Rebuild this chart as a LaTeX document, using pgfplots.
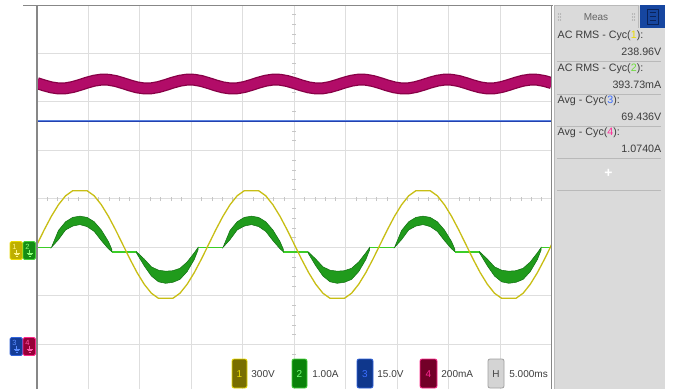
\documentclass[border=0pt]{standalone}
\usepackage{pgfplots}
\pgfplotsset{compat=1.18}
\usepackage{fontspec}
\setmainfont{Liberation Sans}
\definecolor{gridc}{RGB}{222,222,222}
\definecolor{tickc}{RGB}{198,198,198}
\definecolor{ylw}{RGB}{200,190,20}
\definecolor{grnline}{RGB}{60,205,40}
\definecolor{grnfill}{RGB}{32,155,28}
\definecolor{grnedge}{RGB}{15,110,15}
\definecolor{mag}{RGB}{178,12,104}
\definecolor{magdark}{RGB}{135,0,70}
\definecolor{blu}{RGB}{35,65,175}
\definecolor{blulight}{RGB}{90,130,225}
\definecolor{panel}{RGB}{218,218,218}
\definecolor{panelln}{RGB}{185,185,185}
\definecolor{ptxt}{RGB}{60,60,60}
\definecolor{meastxt}{RGB}{100,100,100}
\definecolor{frame}{RGB}{135,135,135}
\definecolor{n1}{RGB}{235,220,0}
\definecolor{n2}{RGB}{110,220,60}
\definecolor{n3}{RGB}{60,110,255}
\definecolor{n4}{RGB}{255,40,150}
\definecolor{tabblue}{RGB}{22,70,160}
\definecolor{tabdark}{RGB}{10,35,90}
\definecolor{dots}{RGB}{150,150,150}
\definecolor{g1fill}{RGB}{190,175,0}
\definecolor{g1draw}{RGB}{235,220,0}
\definecolor{g1txt}{RGB}{255,245,140}
\definecolor{g2fill}{RGB}{20,140,20}
\definecolor{g2draw}{RGB}{70,210,60}
\definecolor{g2txt}{RGB}{140,255,120}
\definecolor{g3fill}{RGB}{20,60,150}
\definecolor{g3draw}{RGB}{50,100,220}
\definecolor{g3txt}{RGB}{90,140,255}
\definecolor{g4fill}{RGB}{150,0,55}
\definecolor{g4draw}{RGB}{255,40,140}
\definecolor{g4txt}{RGB}{255,90,170}
\definecolor{l1fill}{RGB}{120,110,0}
\definecolor{l2fill}{RGB}{10,130,10}
\definecolor{l2txt}{RGB}{120,255,120}
\definecolor{l3fill}{RGB}{15,55,140}
\definecolor{l4fill}{RGB}{115,0,40}
\definecolor{lhfill}{RGB}{212,212,212}
\definecolor{lhdraw}{RGB}{160,160,160}
\definecolor{lhtxt}{RGB}{70,70,70}
\begin{document}
\begin{tikzpicture}[x=1pt,y=1pt]
\path[use as bounding box, fill=white] (0,0) rectangle (678,389);
\begin{axis}[
  at={(37pt,0pt)}, anchor=south west, scale only axis,
  width=514.7pt, height=384pt,
  xmin=0, xmax=50, ymin=-2.92, ymax=5,
  axis line style={draw=none},
  xtick={5,10,...,45}, ytick={-2,-1,...,4},
  xticklabels={}, yticklabels={}, major tick length=0pt,
  grid=major, major grid style={gridc, line width=1pt},
  clip=true, unbounded coords=jump,
]
% centre crosshair minor ticks
\pgfplotsinvokeforeach{1,2,3,4,6,7,8,9,11,12,13,14,16,17,18,19,21,22,23,24,26,27,28,29,31,32,33,34,36,37,38,39,41,42,43,44,46,47,48,49}{
  \draw[tickc, line width=0.6pt] (axis cs:#1,0.955) -- (axis cs:#1,1.045);}
\pgfplotsinvokeforeach{-2.8,-2.6,-2.4,-2.2,-1.8,-1.6,-1.4,-1.2,-0.8,-0.6,-0.4,-0.2,0.2,0.4,0.6,0.8,1.2,1.4,1.6,1.8,2.2,2.4,2.6,2.8,3.2,3.4,3.6,3.8,4.2,4.4,4.6,4.8}{
  \draw[tickc, line width=0.6pt] (axis cs:24.8,#1) -- (axis cs:25.2,#1);}
% channel 4 (magenta), 200 mA/div
\addplot[magdark, line width=12pt, line join=round, no markers] coordinates {
(0,3.389) (0.694,3.341) (1.389,3.301) (2.083,3.279) (2.778,3.282) (3.472,3.308) (4.167,3.351) (4.861,3.399) (5.556,3.439) (6.25,3.461) (6.944,3.458) (7.639,3.432)
(8.333,3.389) (9.028,3.341) (9.722,3.301) (10.417,3.279) (11.111,3.282) (11.806,3.308) (12.5,3.351) (13.194,3.399) (13.889,3.439) (14.583,3.461) (15.278,3.458) (15.972,3.432)
(16.667,3.389) (17.361,3.341) (18.056,3.301) (18.75,3.279) (19.444,3.282) (20.139,3.308) (20.833,3.351) (21.528,3.399) (22.222,3.439) (22.917,3.461) (23.611,3.458) (24.306,3.432)
(25,3.389) (25.694,3.341) (26.389,3.301) (27.083,3.279) (27.778,3.282) (28.472,3.308) (29.167,3.351) (29.861,3.399) (30.556,3.439) (31.25,3.461) (31.944,3.458) (32.639,3.432)
(33.333,3.389) (34.028,3.341) (34.722,3.301) (35.417,3.279) (36.111,3.282) (36.806,3.308) (37.5,3.351) (38.194,3.399) (38.889,3.439) (39.583,3.461) (40.278,3.458) (40.972,3.432)
(41.667,3.389) (42.361,3.341) (43.056,3.301) (43.75,3.279) (44.444,3.282) (45.139,3.308) (45.833,3.351) (46.528,3.399) (47.222,3.439) (47.917,3.461) (48.611,3.458) (49.306,3.432) (50,3.389)};
\addplot[mag, line width=9.5pt, line join=round, no markers] coordinates {
(0,3.389) (0.694,3.341) (1.389,3.301) (2.083,3.279) (2.778,3.282) (3.472,3.308) (4.167,3.351) (4.861,3.399) (5.556,3.439) (6.25,3.461) (6.944,3.458) (7.639,3.432)
(8.333,3.389) (9.028,3.341) (9.722,3.301) (10.417,3.279) (11.111,3.282) (11.806,3.308) (12.5,3.351) (13.194,3.399) (13.889,3.439) (14.583,3.461) (15.278,3.458) (15.972,3.432)
(16.667,3.389) (17.361,3.341) (18.056,3.301) (18.75,3.279) (19.444,3.282) (20.139,3.308) (20.833,3.351) (21.528,3.399) (22.222,3.439) (22.917,3.461) (23.611,3.458) (24.306,3.432)
(25,3.389) (25.694,3.341) (26.389,3.301) (27.083,3.279) (27.778,3.282) (28.472,3.308) (29.167,3.351) (29.861,3.399) (30.556,3.439) (31.25,3.461) (31.944,3.458) (32.639,3.432)
(33.333,3.389) (34.028,3.341) (34.722,3.301) (35.417,3.279) (36.111,3.282) (36.806,3.308) (37.5,3.351) (38.194,3.399) (38.889,3.439) (39.583,3.461) (40.278,3.458) (40.972,3.432)
(41.667,3.389) (42.361,3.341) (43.056,3.301) (43.75,3.279) (44.444,3.282) (45.139,3.308) (45.833,3.351) (46.528,3.399) (47.222,3.439) (47.917,3.461) (48.611,3.458) (49.306,3.432) (50,3.389)};
% channel 3 (blue), 15 V/div
\addplot[blu, line width=2.6pt, no markers] coordinates {(0,2.61) (50,2.61)};
\addplot[blulight, line width=0.8pt, no markers] coordinates {(0,2.61) (50,2.61)};
% channel 2 (green), 1 A/div : flat parts
\addplot[grnline, line width=1.6pt, no markers] coordinates {
(0,0) (1.40,0) (1.45,nan) (7.269,-0.09) (9.676,-0.09) (9.7,nan) (15.648,0) (18.067,0) (18.1,nan)
(23.936,-0.09) (26.343,-0.09) (26.4,nan) (32.315,0) (34.733,0) (34.8,nan) (40.602,-0.09) (43.009,-0.09) (43.1,nan) (48.981,0) (50,0)};
% channel 2 : conduction bands
\addplot[fill=grnfill, draw=grnedge, line width=0.5pt, no markers] coordinates {
(1.40,0) (2.083,0.35) (2.778,0.53) (3.472,0.62) (4.167,0.645) (4.861,0.62) (5.556,0.53) (6.25,0.36) (6.944,0.12) (7.269,-0.04)
(7.269,-0.09) (6.944,-0.03) (6.25,0.14) (5.556,0.33) (4.861,0.43) (4.167,0.47) (3.472,0.44) (2.778,0.36) (2.083,0.16) (1.40,0)} -- cycle;
\addplot[fill=grnfill, draw=grnedge, line width=0.5pt, no markers] coordinates {
(18.067,0) (18.75,0.35) (19.445,0.53) (20.139,0.62) (20.834,0.645) (21.528,0.62) (22.223,0.53) (22.917,0.36) (23.611,0.12) (23.936,-0.04)
(23.936,-0.09) (23.611,-0.03) (22.917,0.14) (22.223,0.33) (21.528,0.43) (20.834,0.47) (20.139,0.44) (19.445,0.36) (18.75,0.16) (18.067,0)} -- cycle;
\addplot[fill=grnfill, draw=grnedge, line width=0.5pt, no markers] coordinates {
(34.733,0) (35.416,0.35) (36.111,0.53) (36.805,0.62) (37.5,0.645) (38.194,0.62) (38.889,0.53) (39.583,0.36) (40.277,0.12) (40.602,-0.04)
(40.602,-0.09) (40.277,-0.03) (39.583,0.14) (38.889,0.33) (38.194,0.43) (37.5,0.47) (36.805,0.44) (36.111,0.36) (35.416,0.16) (34.733,0)} -- cycle;
\addplot[fill=grnfill, draw=grnedge, line width=0.5pt, no markers] coordinates {
(9.676,-0.09) (10.417,-0.24) (11.111,-0.40) (11.806,-0.47) (12.5,-0.49) (13.194,-0.48) (13.889,-0.43) (14.583,-0.30) (15.278,-0.11) (15.648,0)
(15.648,-0.05) (15.278,-0.25) (14.583,-0.50) (13.889,-0.66) (13.194,-0.72) (12.5,-0.74) (11.806,-0.71) (11.111,-0.59) (10.417,-0.38) (9.676,-0.12)} -- cycle;
\addplot[fill=grnfill, draw=grnedge, line width=0.5pt, no markers] coordinates {
(26.343,-0.09) (27.084,-0.24) (27.778,-0.40) (28.473,-0.47) (29.167,-0.49) (29.861,-0.48) (30.556,-0.43) (31.25,-0.30) (31.945,-0.11) (32.315,0)
(32.315,-0.05) (31.945,-0.25) (31.25,-0.50) (30.556,-0.66) (29.861,-0.72) (29.167,-0.74) (28.473,-0.71) (27.778,-0.59) (27.084,-0.38) (26.343,-0.12)} -- cycle;
\addplot[fill=grnfill, draw=grnedge, line width=0.5pt, no markers] coordinates {
(43.009,-0.09) (43.75,-0.24) (44.444,-0.40) (45.139,-0.47) (45.833,-0.49) (46.527,-0.48) (47.222,-0.43) (47.916,-0.30) (48.611,-0.11) (48.981,0)
(48.981,-0.05) (48.611,-0.25) (47.916,-0.50) (47.222,-0.66) (46.527,-0.72) (45.833,-0.74) (45.139,-0.71) (44.444,-0.59) (43.75,-0.38) (43.009,-0.12)} -- cycle;
% channel 1 (yellow), 300 V/div
\addplot[ylw, line width=1.3pt, line join=round, no markers] coordinates {
(0,0.06) (0.694,0.36) (1.389,0.64) (2.083,0.88) (2.778,1.065) (3.472,1.17) (4.167,1.17) (4.861,1.17) (5.556,1.065) (6.25,0.88) (6.944,0.64) (7.639,0.36) (8.333,0.06) (9.028,-0.24) (9.722,-0.52) (10.417,-0.76) (11.111,-0.945) (11.806,-1.05) (12.5,-1.05) (13.194,-1.05) (13.889,-0.945) (14.583,-0.76) (15.278,-0.52) (15.972,-0.24)
(16.667,0.06) (17.361,0.36) (18.056,0.64) (18.75,0.88) (19.444,1.065) (20.139,1.17) (20.833,1.17) (21.528,1.17) (22.222,1.065) (22.917,0.88) (23.611,0.64) (24.306,0.36) (25,0.06) (25.694,-0.24) (26.389,-0.52) (27.083,-0.76) (27.778,-0.945) (28.472,-1.05) (29.167,-1.05) (29.861,-1.05) (30.556,-0.945) (31.25,-0.76) (31.944,-0.52) (32.639,-0.24)
(33.333,0.06) (34.028,0.36) (34.722,0.64) (35.417,0.88) (36.111,1.065) (36.806,1.17) (37.5,1.17) (38.194,1.17) (38.889,1.065) (39.583,0.88) (40.278,0.64) (40.972,0.36) (41.667,0.06) (42.361,-0.24) (43.056,-0.52) (43.75,-0.76) (44.444,-0.945) (45.139,-1.05) (45.833,-1.05) (46.528,-1.05) (47.222,-0.945) (47.917,-0.76) (48.611,-0.52) (49.306,-0.24) (50,0.06)};
\end{axis}
% frame
\draw[frame, line width=1.8pt] (23,383.4) -- (552.5,383.4);
\draw[frame, line width=1.5pt] (37,0) -- (37,384);
\draw[frame, line width=1.5pt] (551.7,0) -- (551.7,384);
% measurement panel
\fill[panel] (554,0) rectangle (665,384);
\draw[panelln, line width=0.8pt] (554.4,0) -- (554.4,383.6) -- (638,383.6) -- (638,361);
\fill[tabblue] (640,361) rectangle (665,384);
\draw[tabdark, line width=0.8pt] (647,365) rectangle (658,380);
\foreach \yy in {368.5,372.5,376.5} \draw[tabdark, line width=0.6pt] (649.5,\yy) -- (655.5,\yy);
\foreach \xx in {558.5,560.5,632.5,634.5} \foreach \yy in {369,372,375} \fill[dots] (\xx,\yy) circle (0.55);
\node[meastxt, font=\fontsize{10}{11}\selectfont] at (596,372) {Meas};
\begin{scope}[every node/.style={ptxt, font=\fontsize{10.7}{12}\selectfont, inner sep=0pt}]
\node[anchor=west] at (557.5,353) {AC RMS - Cyc(\textcolor{n1}{1}):};
\node[anchor=east] at (661.5,337) {238.96V};
\node[anchor=west] at (557.5,320) {AC RMS - Cyc(\textcolor{n2}{2}):};
\node[anchor=east] at (661.5,304) {393.73mA};
\node[anchor=west] at (557.5,288) {Avg - Cyc(\textcolor{n3}{3}):};
\node[anchor=east] at (661.5,272) {69.436V};
\node[anchor=west] at (557.5,256) {Avg - Cyc(\textcolor{n4}{4}):};
\node[anchor=east] at (661.5,240) {1.0740A};
\end{scope}
\foreach \yy in {328,295,263,231,199} \draw[panelln, line width=0.8pt] (557,\yy) -- (661,\yy);
\node[white, font=\fontsize{14}{14}\selectfont\bfseries] at (608.5,216) {+};
% ground markers
\begin{scope}[rounded corners=1.5pt, line width=0.8pt, every node/.style={font=\fontsize{7.5}{8}\selectfont, inner sep=0pt}]
\draw[fill=g1fill, draw=g1draw] (10,129.5) rectangle (22.5,147.5);
\node[g1txt] at (14.5,142) {1};
\draw[fill=g2fill, draw=g2draw] (23,129.5) rectangle (35.5,147.5);
\node[g2txt] at (27.5,142) {2};
\draw[fill=g3fill, draw=g3draw] (10,33.5) rectangle (22.5,51.5);
\node[g3txt] at (14.5,46) {3};
\draw[fill=g4fill, draw=g4draw] (23,33.5) rectangle (35.5,51.5);
\node[g4txt] at (27.5,46) {4};
\foreach \xx/\yy/\cc in {16.5/136/g1txt, 29.5/136/g2txt, 16.5/40/g3txt, 29.5/40/g4txt}{
  \draw[\cc, line width=0.6pt, sharp corners] (\xx,\yy+3.5) -- (\xx,\yy) (\xx-3,\yy) -- (\xx+3,\yy) (\xx-2,\yy-1.5) -- (\xx+2,\yy-1.5) (\xx-1,\yy-3) -- (\xx+1,\yy-3);}
\end{scope}
% bottom channel legend
\begin{scope}[rounded corners=2pt, line width=0.8pt, every node/.style={font=\fontsize{10}{11}\selectfont, inner sep=0pt}]
\draw[fill=l1fill, draw=g1draw] (232,1) rectangle (247,30);
\node[n1] at (239.5,15) {1};
\node[ptxt, anchor=west] at (251,15) {300V};
\draw[fill=l2fill, draw=g2draw] (292,1) rectangle (307,30);
\node[l2txt] at (299.5,15) {2};
\node[ptxt, anchor=west] at (312,15) {1.00A};
\draw[fill=l3fill, draw=g3draw] (357,1) rectangle (373,30);
\node[n3] at (365,15) {3};
\node[ptxt, anchor=west] at (377,15) {15.0V};
\draw[fill=l4fill, draw=g4draw] (420,1) rectangle (437,30);
\node[n4] at (428.5,15) {4};
\node[ptxt, anchor=west] at (441,15) {200mA};
\draw[fill=lhfill, draw=lhdraw] (488,1) rectangle (504,30);
\node[lhtxt] at (496,15) {H};
\node[ptxt, anchor=west] at (509,15) {5.000ms};
\end{scope}
\end{tikzpicture}
\end{document}
